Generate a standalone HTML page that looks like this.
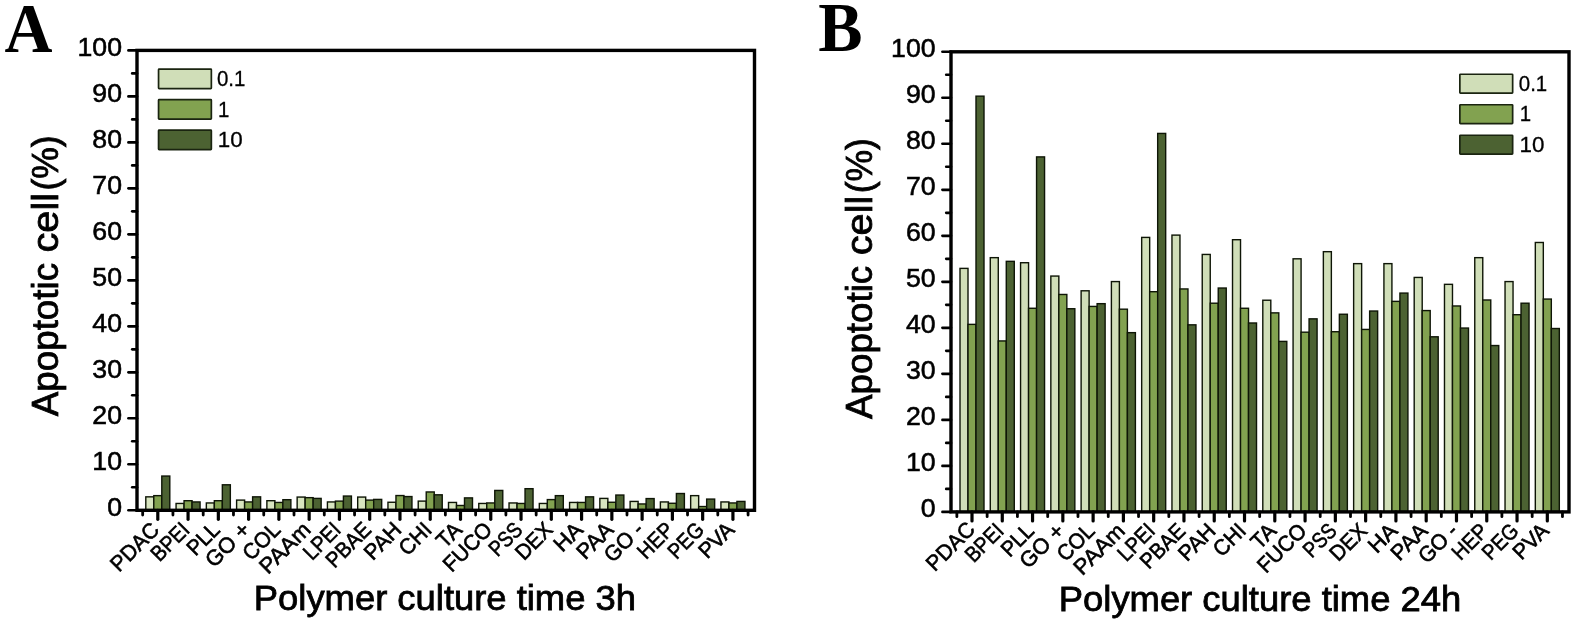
<!DOCTYPE html>
<html><head><meta charset="utf-8"><title>Apoptotic cell charts</title>
<style>
html,body{margin:0;padding:0;background:#fff;}
body{width:1575px;height:626px;overflow:hidden;}
svg{display:block;font-family:"Liberation Sans",sans-serif;fill:#000;filter:blur(0.45px);}
</style></head><body>
<svg width="1575" height="626" viewBox="0 0 1575 626">
<rect width="1575" height="626" fill="#fff"/>
<g id="chartA">
<rect x="145.80" y="496.84" width="8.00" height="13.46" fill="#d8e5c0" stroke="#0e1506" stroke-width="1.4"/>
<rect x="153.80" y="495.64" width="8.00" height="14.66" fill="#82a250" stroke="#0e1506" stroke-width="1.4"/>
<rect x="161.80" y="476.05" width="8.00" height="34.25" fill="#4c6232" stroke="#0e1506" stroke-width="1.4"/>
<rect x="176.07" y="503.46" width="8.00" height="6.84" fill="#d8e5c0" stroke="#0e1506" stroke-width="1.4"/>
<rect x="184.07" y="500.70" width="8.00" height="9.60" fill="#82a250" stroke="#0e1506" stroke-width="1.4"/>
<rect x="192.07" y="501.94" width="8.00" height="8.36" fill="#4c6232" stroke="#0e1506" stroke-width="1.4"/>
<rect x="206.34" y="502.95" width="8.00" height="7.35" fill="#d8e5c0" stroke="#0e1506" stroke-width="1.4"/>
<rect x="214.34" y="500.70" width="8.00" height="9.60" fill="#82a250" stroke="#0e1506" stroke-width="1.4"/>
<rect x="222.34" y="484.79" width="8.00" height="25.51" fill="#4c6232" stroke="#0e1506" stroke-width="1.4"/>
<rect x="236.61" y="500.10" width="8.00" height="10.20" fill="#d8e5c0" stroke="#0e1506" stroke-width="1.4"/>
<rect x="244.61" y="501.94" width="8.00" height="8.36" fill="#82a250" stroke="#0e1506" stroke-width="1.4"/>
<rect x="252.61" y="496.84" width="8.00" height="13.46" fill="#4c6232" stroke="#0e1506" stroke-width="1.4"/>
<rect x="266.88" y="500.70" width="8.00" height="9.60" fill="#d8e5c0" stroke="#0e1506" stroke-width="1.4"/>
<rect x="274.88" y="502.45" width="8.00" height="7.85" fill="#82a250" stroke="#0e1506" stroke-width="1.4"/>
<rect x="282.88" y="499.69" width="8.00" height="10.61" fill="#4c6232" stroke="#0e1506" stroke-width="1.4"/>
<rect x="297.15" y="497.07" width="8.00" height="13.23" fill="#d8e5c0" stroke="#0e1506" stroke-width="1.4"/>
<rect x="305.15" y="497.66" width="8.00" height="12.64" fill="#82a250" stroke="#0e1506" stroke-width="1.4"/>
<rect x="313.15" y="498.40" width="8.00" height="11.90" fill="#4c6232" stroke="#0e1506" stroke-width="1.4"/>
<rect x="327.42" y="501.94" width="8.00" height="8.36" fill="#d8e5c0" stroke="#0e1506" stroke-width="1.4"/>
<rect x="335.42" y="501.11" width="8.00" height="9.19" fill="#82a250" stroke="#0e1506" stroke-width="1.4"/>
<rect x="343.42" y="496.05" width="8.00" height="14.25" fill="#4c6232" stroke="#0e1506" stroke-width="1.4"/>
<rect x="357.69" y="497.07" width="8.00" height="13.23" fill="#d8e5c0" stroke="#0e1506" stroke-width="1.4"/>
<rect x="365.69" y="500.10" width="8.00" height="10.20" fill="#82a250" stroke="#0e1506" stroke-width="1.4"/>
<rect x="373.69" y="499.41" width="8.00" height="10.89" fill="#4c6232" stroke="#0e1506" stroke-width="1.4"/>
<rect x="387.96" y="502.26" width="8.00" height="8.04" fill="#d8e5c0" stroke="#0e1506" stroke-width="1.4"/>
<rect x="395.96" y="495.55" width="8.00" height="14.75" fill="#82a250" stroke="#0e1506" stroke-width="1.4"/>
<rect x="403.96" y="496.56" width="8.00" height="13.74" fill="#4c6232" stroke="#0e1506" stroke-width="1.4"/>
<rect x="418.23" y="501.11" width="8.00" height="9.19" fill="#d8e5c0" stroke="#0e1506" stroke-width="1.4"/>
<rect x="426.23" y="491.96" width="8.00" height="18.34" fill="#82a250" stroke="#0e1506" stroke-width="1.4"/>
<rect x="434.23" y="494.81" width="8.00" height="15.49" fill="#4c6232" stroke="#0e1506" stroke-width="1.4"/>
<rect x="448.50" y="502.45" width="8.00" height="7.85" fill="#d8e5c0" stroke="#0e1506" stroke-width="1.4"/>
<rect x="456.50" y="505.48" width="8.00" height="4.82" fill="#82a250" stroke="#0e1506" stroke-width="1.4"/>
<rect x="464.50" y="497.89" width="8.00" height="12.41" fill="#4c6232" stroke="#0e1506" stroke-width="1.4"/>
<rect x="478.77" y="503.46" width="8.00" height="6.84" fill="#d8e5c0" stroke="#0e1506" stroke-width="1.4"/>
<rect x="486.77" y="502.95" width="8.00" height="7.35" fill="#82a250" stroke="#0e1506" stroke-width="1.4"/>
<rect x="494.77" y="490.44" width="8.00" height="19.86" fill="#4c6232" stroke="#0e1506" stroke-width="1.4"/>
<rect x="509.04" y="502.95" width="8.00" height="7.35" fill="#d8e5c0" stroke="#0e1506" stroke-width="1.4"/>
<rect x="517.04" y="503.46" width="8.00" height="6.84" fill="#82a250" stroke="#0e1506" stroke-width="1.4"/>
<rect x="525.04" y="488.69" width="8.00" height="21.61" fill="#4c6232" stroke="#0e1506" stroke-width="1.4"/>
<rect x="539.31" y="503.46" width="8.00" height="6.84" fill="#d8e5c0" stroke="#0e1506" stroke-width="1.4"/>
<rect x="547.31" y="499.59" width="8.00" height="10.71" fill="#82a250" stroke="#0e1506" stroke-width="1.4"/>
<rect x="555.31" y="495.64" width="8.00" height="14.66" fill="#4c6232" stroke="#0e1506" stroke-width="1.4"/>
<rect x="569.58" y="502.45" width="8.00" height="7.85" fill="#d8e5c0" stroke="#0e1506" stroke-width="1.4"/>
<rect x="577.58" y="502.45" width="8.00" height="7.85" fill="#82a250" stroke="#0e1506" stroke-width="1.4"/>
<rect x="585.58" y="496.84" width="8.00" height="13.46" fill="#4c6232" stroke="#0e1506" stroke-width="1.4"/>
<rect x="599.85" y="498.40" width="8.00" height="11.90" fill="#d8e5c0" stroke="#0e1506" stroke-width="1.4"/>
<rect x="607.85" y="502.26" width="8.00" height="8.04" fill="#82a250" stroke="#0e1506" stroke-width="1.4"/>
<rect x="615.85" y="495.04" width="8.00" height="15.26" fill="#4c6232" stroke="#0e1506" stroke-width="1.4"/>
<rect x="630.12" y="501.43" width="8.00" height="8.87" fill="#d8e5c0" stroke="#0e1506" stroke-width="1.4"/>
<rect x="638.12" y="503.96" width="8.00" height="6.34" fill="#82a250" stroke="#0e1506" stroke-width="1.4"/>
<rect x="646.12" y="498.58" width="8.00" height="11.72" fill="#4c6232" stroke="#0e1506" stroke-width="1.4"/>
<rect x="660.39" y="501.94" width="8.00" height="8.36" fill="#d8e5c0" stroke="#0e1506" stroke-width="1.4"/>
<rect x="668.39" y="503.27" width="8.00" height="7.03" fill="#82a250" stroke="#0e1506" stroke-width="1.4"/>
<rect x="676.39" y="493.52" width="8.00" height="16.78" fill="#4c6232" stroke="#0e1506" stroke-width="1.4"/>
<rect x="690.66" y="495.64" width="8.00" height="14.66" fill="#d8e5c0" stroke="#0e1506" stroke-width="1.4"/>
<rect x="698.66" y="506.54" width="8.00" height="3.76" fill="#82a250" stroke="#0e1506" stroke-width="1.4"/>
<rect x="706.66" y="499.09" width="8.00" height="11.21" fill="#4c6232" stroke="#0e1506" stroke-width="1.4"/>
<rect x="720.93" y="501.94" width="8.00" height="8.36" fill="#d8e5c0" stroke="#0e1506" stroke-width="1.4"/>
<rect x="728.93" y="502.95" width="8.00" height="7.35" fill="#82a250" stroke="#0e1506" stroke-width="1.4"/>
<rect x="736.93" y="501.43" width="8.00" height="8.87" fill="#4c6232" stroke="#0e1506" stroke-width="1.4"/>
<rect x="137" y="50.4" width="617.5" height="459.90000000000003" fill="none" stroke="#000" stroke-width="3.4"/>
<line x1="128.40" y1="510.30" x2="137" y2="510.30" stroke="#000" stroke-width="2.6" stroke-linecap="round"/>
<text transform="translate(122.0,515.70) scale(1.05,1)" text-anchor="end" font-size="25.4" stroke="#000" stroke-width="0.55">0</text>
<line x1="132.20" y1="487.31" x2="137" y2="487.31" stroke="#000" stroke-width="2.6" stroke-linecap="round"/>
<line x1="128.40" y1="464.31" x2="137" y2="464.31" stroke="#000" stroke-width="2.6" stroke-linecap="round"/>
<text transform="translate(122.0,469.71) scale(1.05,1)" text-anchor="end" font-size="25.4" stroke="#000" stroke-width="0.55">10</text>
<line x1="132.20" y1="441.31" x2="137" y2="441.31" stroke="#000" stroke-width="2.6" stroke-linecap="round"/>
<line x1="128.40" y1="418.32" x2="137" y2="418.32" stroke="#000" stroke-width="2.6" stroke-linecap="round"/>
<text transform="translate(122.0,423.72) scale(1.05,1)" text-anchor="end" font-size="25.4" stroke="#000" stroke-width="0.55">20</text>
<line x1="132.20" y1="395.32" x2="137" y2="395.32" stroke="#000" stroke-width="2.6" stroke-linecap="round"/>
<line x1="128.40" y1="372.33" x2="137" y2="372.33" stroke="#000" stroke-width="2.6" stroke-linecap="round"/>
<text transform="translate(122.0,377.73) scale(1.05,1)" text-anchor="end" font-size="25.4" stroke="#000" stroke-width="0.55">30</text>
<line x1="132.20" y1="349.34" x2="137" y2="349.34" stroke="#000" stroke-width="2.6" stroke-linecap="round"/>
<line x1="128.40" y1="326.34" x2="137" y2="326.34" stroke="#000" stroke-width="2.6" stroke-linecap="round"/>
<text transform="translate(122.0,331.74) scale(1.05,1)" text-anchor="end" font-size="25.4" stroke="#000" stroke-width="0.55">40</text>
<line x1="132.20" y1="303.35" x2="137" y2="303.35" stroke="#000" stroke-width="2.6" stroke-linecap="round"/>
<line x1="128.40" y1="280.35" x2="137" y2="280.35" stroke="#000" stroke-width="2.6" stroke-linecap="round"/>
<text transform="translate(122.0,285.75) scale(1.05,1)" text-anchor="end" font-size="25.4" stroke="#000" stroke-width="0.55">50</text>
<line x1="132.20" y1="257.36" x2="137" y2="257.36" stroke="#000" stroke-width="2.6" stroke-linecap="round"/>
<line x1="128.40" y1="234.36" x2="137" y2="234.36" stroke="#000" stroke-width="2.6" stroke-linecap="round"/>
<text transform="translate(122.0,239.76) scale(1.05,1)" text-anchor="end" font-size="25.4" stroke="#000" stroke-width="0.55">60</text>
<line x1="132.20" y1="211.37" x2="137" y2="211.37" stroke="#000" stroke-width="2.6" stroke-linecap="round"/>
<line x1="128.40" y1="188.37" x2="137" y2="188.37" stroke="#000" stroke-width="2.6" stroke-linecap="round"/>
<text transform="translate(122.0,193.77) scale(1.05,1)" text-anchor="end" font-size="25.4" stroke="#000" stroke-width="0.55">70</text>
<line x1="132.20" y1="165.38" x2="137" y2="165.38" stroke="#000" stroke-width="2.6" stroke-linecap="round"/>
<line x1="128.40" y1="142.38" x2="137" y2="142.38" stroke="#000" stroke-width="2.6" stroke-linecap="round"/>
<text transform="translate(122.0,147.78) scale(1.05,1)" text-anchor="end" font-size="25.4" stroke="#000" stroke-width="0.55">80</text>
<line x1="132.20" y1="119.38" x2="137" y2="119.38" stroke="#000" stroke-width="2.6" stroke-linecap="round"/>
<line x1="128.40" y1="96.39" x2="137" y2="96.39" stroke="#000" stroke-width="2.6" stroke-linecap="round"/>
<text transform="translate(122.0,101.79) scale(1.05,1)" text-anchor="end" font-size="25.4" stroke="#000" stroke-width="0.55">90</text>
<line x1="132.20" y1="73.39" x2="137" y2="73.39" stroke="#000" stroke-width="2.6" stroke-linecap="round"/>
<line x1="128.40" y1="50.40" x2="137" y2="50.40" stroke="#000" stroke-width="2.6" stroke-linecap="round"/>
<text transform="translate(122.0,55.80) scale(1.05,1)" text-anchor="end" font-size="25.4" stroke="#000" stroke-width="0.55">100</text>
<line x1="157.80" y1="510.3" x2="157.80" y2="519.30" stroke="#000" stroke-width="3.2" stroke-linecap="round"/>
<line x1="142.67" y1="510.3" x2="142.67" y2="515.10" stroke="#000" stroke-width="2.8" stroke-linecap="round"/>
<line x1="172.94" y1="510.3" x2="172.94" y2="515.10" stroke="#000" stroke-width="2.8" stroke-linecap="round"/>
<text transform="translate(160.60,531.10) rotate(-45) scale(0.972,1)" text-anchor="end" font-size="21.8" stroke="#000" stroke-width="0.6">PDAC</text>
<line x1="188.07" y1="510.3" x2="188.07" y2="519.30" stroke="#000" stroke-width="3.2" stroke-linecap="round"/>
<line x1="203.21" y1="510.3" x2="203.21" y2="515.10" stroke="#000" stroke-width="2.8" stroke-linecap="round"/>
<text transform="translate(190.87,531.10) rotate(-45) scale(0.895,1)" text-anchor="end" font-size="21.8" stroke="#000" stroke-width="0.6">BPEI</text>
<line x1="218.34" y1="510.3" x2="218.34" y2="519.30" stroke="#000" stroke-width="3.2" stroke-linecap="round"/>
<line x1="233.47" y1="510.3" x2="233.47" y2="515.10" stroke="#000" stroke-width="2.8" stroke-linecap="round"/>
<text transform="translate(221.14,531.10) rotate(-45) scale(0.938,1)" text-anchor="end" font-size="21.8" stroke="#000" stroke-width="0.6">PLL</text>
<line x1="248.61" y1="510.3" x2="248.61" y2="519.30" stroke="#000" stroke-width="3.2" stroke-linecap="round"/>
<line x1="263.75" y1="510.3" x2="263.75" y2="515.10" stroke="#000" stroke-width="2.8" stroke-linecap="round"/>
<text transform="translate(251.41,531.10) rotate(-45) scale(1.001,1)" text-anchor="end" font-size="21.8" stroke="#000" stroke-width="0.6">GO +</text>
<line x1="278.88" y1="510.3" x2="278.88" y2="519.30" stroke="#000" stroke-width="3.2" stroke-linecap="round"/>
<line x1="294.01" y1="510.3" x2="294.01" y2="515.10" stroke="#000" stroke-width="2.8" stroke-linecap="round"/>
<text transform="translate(281.68,531.10) rotate(-45) scale(0.957,1)" text-anchor="end" font-size="21.8" stroke="#000" stroke-width="0.6">COL</text>
<line x1="309.15" y1="510.3" x2="309.15" y2="519.30" stroke="#000" stroke-width="3.2" stroke-linecap="round"/>
<line x1="324.28" y1="510.3" x2="324.28" y2="515.10" stroke="#000" stroke-width="2.8" stroke-linecap="round"/>
<text transform="translate(311.95,531.10) rotate(-45) scale(1.033,1)" text-anchor="end" font-size="21.8" stroke="#000" stroke-width="0.6">PAAm</text>
<line x1="339.42" y1="510.3" x2="339.42" y2="519.30" stroke="#000" stroke-width="3.2" stroke-linecap="round"/>
<line x1="354.56" y1="510.3" x2="354.56" y2="515.10" stroke="#000" stroke-width="2.8" stroke-linecap="round"/>
<text transform="translate(342.22,531.10) rotate(-45) scale(0.904,1)" text-anchor="end" font-size="21.8" stroke="#000" stroke-width="0.6">LPEI</text>
<line x1="369.69" y1="510.3" x2="369.69" y2="519.30" stroke="#000" stroke-width="3.2" stroke-linecap="round"/>
<line x1="384.82" y1="510.3" x2="384.82" y2="515.10" stroke="#000" stroke-width="2.8" stroke-linecap="round"/>
<text transform="translate(372.49,531.10) rotate(-45) scale(0.922,1)" text-anchor="end" font-size="21.8" stroke="#000" stroke-width="0.6">PBAE</text>
<line x1="399.96" y1="510.3" x2="399.96" y2="519.30" stroke="#000" stroke-width="3.2" stroke-linecap="round"/>
<line x1="415.10" y1="510.3" x2="415.10" y2="515.10" stroke="#000" stroke-width="2.8" stroke-linecap="round"/>
<text transform="translate(402.76,531.10) rotate(-45) scale(0.987,1)" text-anchor="end" font-size="21.8" stroke="#000" stroke-width="0.6">PAH</text>
<line x1="430.23" y1="510.3" x2="430.23" y2="519.30" stroke="#000" stroke-width="3.2" stroke-linecap="round"/>
<line x1="445.37" y1="510.3" x2="445.37" y2="515.10" stroke="#000" stroke-width="2.8" stroke-linecap="round"/>
<text transform="translate(433.03,531.10) rotate(-45) scale(0.965,1)" text-anchor="end" font-size="21.8" stroke="#000" stroke-width="0.6">CHI</text>
<line x1="460.50" y1="510.3" x2="460.50" y2="519.30" stroke="#000" stroke-width="3.2" stroke-linecap="round"/>
<line x1="475.63" y1="510.3" x2="475.63" y2="515.10" stroke="#000" stroke-width="2.8" stroke-linecap="round"/>
<text transform="translate(463.30,531.10) rotate(-45) scale(0.981,1)" text-anchor="end" font-size="21.8" stroke="#000" stroke-width="0.6">TA</text>
<line x1="490.77" y1="510.3" x2="490.77" y2="519.30" stroke="#000" stroke-width="3.2" stroke-linecap="round"/>
<line x1="505.90" y1="510.3" x2="505.90" y2="515.10" stroke="#000" stroke-width="2.8" stroke-linecap="round"/>
<text transform="translate(493.57,531.10) rotate(-45) scale(0.958,1)" text-anchor="end" font-size="21.8" stroke="#000" stroke-width="0.6">FUCO</text>
<line x1="521.04" y1="510.3" x2="521.04" y2="519.30" stroke="#000" stroke-width="3.2" stroke-linecap="round"/>
<line x1="536.17" y1="510.3" x2="536.17" y2="515.10" stroke="#000" stroke-width="2.8" stroke-linecap="round"/>
<text transform="translate(523.84,531.10) rotate(-45) scale(0.857,1)" text-anchor="end" font-size="21.8" stroke="#000" stroke-width="0.6">PSS</text>
<line x1="551.31" y1="510.3" x2="551.31" y2="519.30" stroke="#000" stroke-width="3.2" stroke-linecap="round"/>
<line x1="566.44" y1="510.3" x2="566.44" y2="515.10" stroke="#000" stroke-width="2.8" stroke-linecap="round"/>
<text transform="translate(554.11,531.10) rotate(-45) scale(0.95,1)" text-anchor="end" font-size="21.8" stroke="#000" stroke-width="0.6">DEX</text>
<line x1="581.58" y1="510.3" x2="581.58" y2="519.30" stroke="#000" stroke-width="3.2" stroke-linecap="round"/>
<line x1="596.71" y1="510.3" x2="596.71" y2="515.10" stroke="#000" stroke-width="2.8" stroke-linecap="round"/>
<text transform="translate(584.38,531.10) rotate(-45) scale(1.028,1)" text-anchor="end" font-size="21.8" stroke="#000" stroke-width="0.6">HA</text>
<line x1="611.85" y1="510.3" x2="611.85" y2="519.30" stroke="#000" stroke-width="3.2" stroke-linecap="round"/>
<line x1="626.99" y1="510.3" x2="626.99" y2="515.10" stroke="#000" stroke-width="2.8" stroke-linecap="round"/>
<text transform="translate(614.65,531.10) rotate(-45) scale(0.992,1)" text-anchor="end" font-size="21.8" stroke="#000" stroke-width="0.6">PAA</text>
<line x1="642.12" y1="510.3" x2="642.12" y2="519.30" stroke="#000" stroke-width="3.2" stroke-linecap="round"/>
<line x1="657.25" y1="510.3" x2="657.25" y2="515.10" stroke="#000" stroke-width="2.8" stroke-linecap="round"/>
<text transform="translate(644.92,531.10) rotate(-45) scale(0.967,1)" text-anchor="end" font-size="21.8" stroke="#000" stroke-width="0.6">GO -</text>
<line x1="672.39" y1="510.3" x2="672.39" y2="519.30" stroke="#000" stroke-width="3.2" stroke-linecap="round"/>
<line x1="687.53" y1="510.3" x2="687.53" y2="515.10" stroke="#000" stroke-width="2.8" stroke-linecap="round"/>
<text transform="translate(675.19,531.10) rotate(-45) scale(0.921,1)" text-anchor="end" font-size="21.8" stroke="#000" stroke-width="0.6">HEP</text>
<line x1="702.66" y1="510.3" x2="702.66" y2="519.30" stroke="#000" stroke-width="3.2" stroke-linecap="round"/>
<line x1="717.80" y1="510.3" x2="717.80" y2="515.10" stroke="#000" stroke-width="2.8" stroke-linecap="round"/>
<text transform="translate(705.46,531.10) rotate(-45) scale(0.894,1)" text-anchor="end" font-size="21.8" stroke="#000" stroke-width="0.6">PEG</text>
<line x1="732.93" y1="510.3" x2="732.93" y2="519.30" stroke="#000" stroke-width="3.2" stroke-linecap="round"/>
<line x1="748.07" y1="510.3" x2="748.07" y2="515.10" stroke="#000" stroke-width="2.8" stroke-linecap="round"/>
<text transform="translate(735.73,531.10) rotate(-45) scale(0.961,1)" text-anchor="end" font-size="21.8" stroke="#000" stroke-width="0.6">PVA</text>
<rect x="158.54999999999998" y="69.05" width="52.8" height="19.6" rx="0.6" fill="#d0deb8" stroke="#1a2410" stroke-width="1.7"/>
<text transform="translate(216.90,86.40) scale(0.96,1)" font-size="21.3" stroke="#000" stroke-width="0.3">0.1</text>
<rect x="158.54999999999998" y="99.55" width="52.8" height="19.6" rx="0.6" fill="#82a250" stroke="#1a2410" stroke-width="1.7"/>
<text transform="translate(217.90,116.90) scale(0.96,1)" font-size="21.3" stroke="#000" stroke-width="0.3">1</text>
<rect x="158.54999999999998" y="130.04999999999998" width="52.8" height="19.6" rx="0.6" fill="#4c6232" stroke="#1a2410" stroke-width="1.7"/>
<text transform="translate(217.70,147.40) scale(1.05,1)" font-size="21.3" stroke="#000" stroke-width="0.3">10</text>
<text transform="translate(58.3,416.2) rotate(-90) scale(1.002,1)" font-size="36.7" stroke="#000" stroke-width="0.8">Apoptotic</text>
<text transform="translate(58.3,252.5) rotate(-90) scale(1.083,1)" font-size="36.7" stroke="#000" stroke-width="0.8">cell</text>
<text transform="translate(58.3,190.5) rotate(-90) scale(0.966,1)" font-size="36.7" stroke="#000" stroke-width="0.8">(%)</text>
<text transform="translate(444.9,609.6) scale(1.04,1)" text-anchor="middle" font-size="35" stroke="#000" stroke-width="0.8">Polymer culture time 3h</text>
<text transform="translate(4.5,51.6) scale(0.965,1)" font-family="'Liberation Serif',serif" font-weight="bold" font-size="68.8">A</text>
</g>
<g id="chartB">
<rect x="960.00" y="268.38" width="8.00" height="243.52" fill="#d0deb8" stroke="#0e1506" stroke-width="1.4"/>
<rect x="968.00" y="324.37" width="8.00" height="187.53" fill="#82a250" stroke="#0e1506" stroke-width="1.4"/>
<rect x="976.00" y="96.16" width="8.00" height="415.74" fill="#4c6232" stroke="#0e1506" stroke-width="1.4"/>
<rect x="990.28" y="257.66" width="8.00" height="254.24" fill="#d0deb8" stroke="#0e1506" stroke-width="1.4"/>
<rect x="998.28" y="340.94" width="8.00" height="170.96" fill="#82a250" stroke="#0e1506" stroke-width="1.4"/>
<rect x="1006.28" y="261.34" width="8.00" height="250.56" fill="#4c6232" stroke="#0e1506" stroke-width="1.4"/>
<rect x="1020.56" y="262.72" width="8.00" height="249.18" fill="#d0deb8" stroke="#0e1506" stroke-width="1.4"/>
<rect x="1028.56" y="308.27" width="8.00" height="203.63" fill="#82a250" stroke="#0e1506" stroke-width="1.4"/>
<rect x="1036.56" y="156.90" width="8.00" height="355.00" fill="#4c6232" stroke="#0e1506" stroke-width="1.4"/>
<rect x="1050.84" y="276.06" width="8.00" height="235.84" fill="#d0deb8" stroke="#0e1506" stroke-width="1.4"/>
<rect x="1058.84" y="294.47" width="8.00" height="217.43" fill="#82a250" stroke="#0e1506" stroke-width="1.4"/>
<rect x="1066.84" y="308.73" width="8.00" height="203.17" fill="#4c6232" stroke="#0e1506" stroke-width="1.4"/>
<rect x="1081.12" y="290.79" width="8.00" height="221.11" fill="#d0deb8" stroke="#0e1506" stroke-width="1.4"/>
<rect x="1089.12" y="306.43" width="8.00" height="205.47" fill="#82a250" stroke="#0e1506" stroke-width="1.4"/>
<rect x="1097.12" y="303.67" width="8.00" height="208.23" fill="#4c6232" stroke="#0e1506" stroke-width="1.4"/>
<rect x="1111.40" y="281.58" width="8.00" height="230.32" fill="#d0deb8" stroke="#0e1506" stroke-width="1.4"/>
<rect x="1119.40" y="309.19" width="8.00" height="202.71" fill="#82a250" stroke="#0e1506" stroke-width="1.4"/>
<rect x="1127.40" y="332.65" width="8.00" height="179.25" fill="#4c6232" stroke="#0e1506" stroke-width="1.4"/>
<rect x="1141.68" y="237.41" width="8.00" height="274.49" fill="#d0deb8" stroke="#0e1506" stroke-width="1.4"/>
<rect x="1149.68" y="291.71" width="8.00" height="220.19" fill="#82a250" stroke="#0e1506" stroke-width="1.4"/>
<rect x="1157.68" y="133.43" width="8.00" height="378.47" fill="#4c6232" stroke="#0e1506" stroke-width="1.4"/>
<rect x="1171.96" y="235.11" width="8.00" height="276.79" fill="#d0deb8" stroke="#0e1506" stroke-width="1.4"/>
<rect x="1179.96" y="288.95" width="8.00" height="222.95" fill="#82a250" stroke="#0e1506" stroke-width="1.4"/>
<rect x="1187.96" y="324.83" width="8.00" height="187.07" fill="#4c6232" stroke="#0e1506" stroke-width="1.4"/>
<rect x="1202.24" y="254.44" width="8.00" height="257.46" fill="#d0deb8" stroke="#0e1506" stroke-width="1.4"/>
<rect x="1210.24" y="303.21" width="8.00" height="208.69" fill="#82a250" stroke="#0e1506" stroke-width="1.4"/>
<rect x="1218.24" y="288.03" width="8.00" height="223.87" fill="#4c6232" stroke="#0e1506" stroke-width="1.4"/>
<rect x="1232.52" y="239.71" width="8.00" height="272.19" fill="#d0deb8" stroke="#0e1506" stroke-width="1.4"/>
<rect x="1240.52" y="308.27" width="8.00" height="203.63" fill="#82a250" stroke="#0e1506" stroke-width="1.4"/>
<rect x="1248.52" y="322.99" width="8.00" height="188.91" fill="#4c6232" stroke="#0e1506" stroke-width="1.4"/>
<rect x="1262.80" y="300.22" width="8.00" height="211.68" fill="#d0deb8" stroke="#0e1506" stroke-width="1.4"/>
<rect x="1270.80" y="312.87" width="8.00" height="199.03" fill="#82a250" stroke="#0e1506" stroke-width="1.4"/>
<rect x="1278.80" y="341.40" width="8.00" height="170.50" fill="#4c6232" stroke="#0e1506" stroke-width="1.4"/>
<rect x="1293.08" y="258.81" width="8.00" height="253.09" fill="#d0deb8" stroke="#0e1506" stroke-width="1.4"/>
<rect x="1301.08" y="332.19" width="8.00" height="179.71" fill="#82a250" stroke="#0e1506" stroke-width="1.4"/>
<rect x="1309.08" y="318.85" width="8.00" height="193.05" fill="#4c6232" stroke="#0e1506" stroke-width="1.4"/>
<rect x="1323.36" y="251.68" width="8.00" height="260.22" fill="#d0deb8" stroke="#0e1506" stroke-width="1.4"/>
<rect x="1331.36" y="331.73" width="8.00" height="180.17" fill="#82a250" stroke="#0e1506" stroke-width="1.4"/>
<rect x="1339.36" y="314.25" width="8.00" height="197.65" fill="#4c6232" stroke="#0e1506" stroke-width="1.4"/>
<rect x="1353.64" y="263.64" width="8.00" height="248.26" fill="#d0deb8" stroke="#0e1506" stroke-width="1.4"/>
<rect x="1361.64" y="329.43" width="8.00" height="182.47" fill="#82a250" stroke="#0e1506" stroke-width="1.4"/>
<rect x="1369.64" y="311.03" width="8.00" height="200.87" fill="#4c6232" stroke="#0e1506" stroke-width="1.4"/>
<rect x="1383.92" y="263.64" width="8.00" height="248.26" fill="#d0deb8" stroke="#0e1506" stroke-width="1.4"/>
<rect x="1391.92" y="301.37" width="8.00" height="210.53" fill="#82a250" stroke="#0e1506" stroke-width="1.4"/>
<rect x="1399.92" y="293.09" width="8.00" height="218.81" fill="#4c6232" stroke="#0e1506" stroke-width="1.4"/>
<rect x="1414.20" y="277.44" width="8.00" height="234.46" fill="#d0deb8" stroke="#0e1506" stroke-width="1.4"/>
<rect x="1422.20" y="310.57" width="8.00" height="201.33" fill="#82a250" stroke="#0e1506" stroke-width="1.4"/>
<rect x="1430.20" y="336.80" width="8.00" height="175.10" fill="#4c6232" stroke="#0e1506" stroke-width="1.4"/>
<rect x="1444.48" y="284.34" width="8.00" height="227.56" fill="#d0deb8" stroke="#0e1506" stroke-width="1.4"/>
<rect x="1452.48" y="305.97" width="8.00" height="205.93" fill="#82a250" stroke="#0e1506" stroke-width="1.4"/>
<rect x="1460.48" y="328.05" width="8.00" height="183.85" fill="#4c6232" stroke="#0e1506" stroke-width="1.4"/>
<rect x="1474.76" y="257.66" width="8.00" height="254.24" fill="#d0deb8" stroke="#0e1506" stroke-width="1.4"/>
<rect x="1482.76" y="299.99" width="8.00" height="211.91" fill="#82a250" stroke="#0e1506" stroke-width="1.4"/>
<rect x="1490.76" y="345.54" width="8.00" height="166.36" fill="#4c6232" stroke="#0e1506" stroke-width="1.4"/>
<rect x="1505.04" y="281.58" width="8.00" height="230.32" fill="#d0deb8" stroke="#0e1506" stroke-width="1.4"/>
<rect x="1513.04" y="314.71" width="8.00" height="197.19" fill="#82a250" stroke="#0e1506" stroke-width="1.4"/>
<rect x="1521.04" y="303.21" width="8.00" height="208.69" fill="#4c6232" stroke="#0e1506" stroke-width="1.4"/>
<rect x="1535.32" y="242.48" width="8.00" height="269.42" fill="#d0deb8" stroke="#0e1506" stroke-width="1.4"/>
<rect x="1543.32" y="299.07" width="8.00" height="212.83" fill="#82a250" stroke="#0e1506" stroke-width="1.4"/>
<rect x="1551.32" y="328.51" width="8.00" height="183.39" fill="#4c6232" stroke="#0e1506" stroke-width="1.4"/>
<rect x="951" y="51.8" width="618" height="460.09999999999997" fill="none" stroke="#000" stroke-width="3.4"/>
<line x1="942.40" y1="511.90" x2="951" y2="511.90" stroke="#000" stroke-width="2.6" stroke-linecap="round"/>
<text transform="translate(935.6,517.30) scale(1.05,1)" text-anchor="end" font-size="25.4" stroke="#000" stroke-width="0.55">0</text>
<line x1="946.20" y1="488.89" x2="951" y2="488.89" stroke="#000" stroke-width="2.6" stroke-linecap="round"/>
<line x1="942.40" y1="465.89" x2="951" y2="465.89" stroke="#000" stroke-width="2.6" stroke-linecap="round"/>
<text transform="translate(935.6,471.29) scale(1.05,1)" text-anchor="end" font-size="25.4" stroke="#000" stroke-width="0.55">10</text>
<line x1="946.20" y1="442.88" x2="951" y2="442.88" stroke="#000" stroke-width="2.6" stroke-linecap="round"/>
<line x1="942.40" y1="419.88" x2="951" y2="419.88" stroke="#000" stroke-width="2.6" stroke-linecap="round"/>
<text transform="translate(935.6,425.28) scale(1.05,1)" text-anchor="end" font-size="25.4" stroke="#000" stroke-width="0.55">20</text>
<line x1="946.20" y1="396.88" x2="951" y2="396.88" stroke="#000" stroke-width="2.6" stroke-linecap="round"/>
<line x1="942.40" y1="373.87" x2="951" y2="373.87" stroke="#000" stroke-width="2.6" stroke-linecap="round"/>
<text transform="translate(935.6,379.27) scale(1.05,1)" text-anchor="end" font-size="25.4" stroke="#000" stroke-width="0.55">30</text>
<line x1="946.20" y1="350.87" x2="951" y2="350.87" stroke="#000" stroke-width="2.6" stroke-linecap="round"/>
<line x1="942.40" y1="327.86" x2="951" y2="327.86" stroke="#000" stroke-width="2.6" stroke-linecap="round"/>
<text transform="translate(935.6,333.26) scale(1.05,1)" text-anchor="end" font-size="25.4" stroke="#000" stroke-width="0.55">40</text>
<line x1="946.20" y1="304.86" x2="951" y2="304.86" stroke="#000" stroke-width="2.6" stroke-linecap="round"/>
<line x1="942.40" y1="281.85" x2="951" y2="281.85" stroke="#000" stroke-width="2.6" stroke-linecap="round"/>
<text transform="translate(935.6,287.25) scale(1.05,1)" text-anchor="end" font-size="25.4" stroke="#000" stroke-width="0.55">50</text>
<line x1="946.20" y1="258.84" x2="951" y2="258.84" stroke="#000" stroke-width="2.6" stroke-linecap="round"/>
<line x1="942.40" y1="235.84" x2="951" y2="235.84" stroke="#000" stroke-width="2.6" stroke-linecap="round"/>
<text transform="translate(935.6,241.24) scale(1.05,1)" text-anchor="end" font-size="25.4" stroke="#000" stroke-width="0.55">60</text>
<line x1="946.20" y1="212.83" x2="951" y2="212.83" stroke="#000" stroke-width="2.6" stroke-linecap="round"/>
<line x1="942.40" y1="189.83" x2="951" y2="189.83" stroke="#000" stroke-width="2.6" stroke-linecap="round"/>
<text transform="translate(935.6,195.23) scale(1.05,1)" text-anchor="end" font-size="25.4" stroke="#000" stroke-width="0.55">70</text>
<line x1="946.20" y1="166.82" x2="951" y2="166.82" stroke="#000" stroke-width="2.6" stroke-linecap="round"/>
<line x1="942.40" y1="143.82" x2="951" y2="143.82" stroke="#000" stroke-width="2.6" stroke-linecap="round"/>
<text transform="translate(935.6,149.22) scale(1.05,1)" text-anchor="end" font-size="25.4" stroke="#000" stroke-width="0.55">80</text>
<line x1="946.20" y1="120.81" x2="951" y2="120.81" stroke="#000" stroke-width="2.6" stroke-linecap="round"/>
<line x1="942.40" y1="97.81" x2="951" y2="97.81" stroke="#000" stroke-width="2.6" stroke-linecap="round"/>
<text transform="translate(935.6,103.21) scale(1.05,1)" text-anchor="end" font-size="25.4" stroke="#000" stroke-width="0.55">90</text>
<line x1="946.20" y1="74.81" x2="951" y2="74.81" stroke="#000" stroke-width="2.6" stroke-linecap="round"/>
<line x1="942.40" y1="51.80" x2="951" y2="51.80" stroke="#000" stroke-width="2.6" stroke-linecap="round"/>
<text transform="translate(935.6,57.20) scale(1.05,1)" text-anchor="end" font-size="25.4" stroke="#000" stroke-width="0.55">100</text>
<line x1="972.00" y1="511.9" x2="972.00" y2="520.90" stroke="#000" stroke-width="3.2" stroke-linecap="round"/>
<line x1="956.86" y1="511.9" x2="956.86" y2="516.70" stroke="#000" stroke-width="2.8" stroke-linecap="round"/>
<line x1="987.14" y1="511.9" x2="987.14" y2="516.70" stroke="#000" stroke-width="2.8" stroke-linecap="round"/>
<text transform="translate(976.40,530.70) rotate(-45) scale(0.972,1)" text-anchor="end" font-size="21.8" stroke="#000" stroke-width="0.6">PDAC</text>
<line x1="1002.28" y1="511.9" x2="1002.28" y2="520.90" stroke="#000" stroke-width="3.2" stroke-linecap="round"/>
<line x1="1017.42" y1="511.9" x2="1017.42" y2="516.70" stroke="#000" stroke-width="2.8" stroke-linecap="round"/>
<text transform="translate(1005.08,532.20) rotate(-45) scale(0.895,1)" text-anchor="end" font-size="21.8" stroke="#000" stroke-width="0.6">BPEI</text>
<line x1="1032.56" y1="511.9" x2="1032.56" y2="520.90" stroke="#000" stroke-width="3.2" stroke-linecap="round"/>
<line x1="1047.70" y1="511.9" x2="1047.70" y2="516.70" stroke="#000" stroke-width="2.8" stroke-linecap="round"/>
<text transform="translate(1035.36,532.20) rotate(-45) scale(0.938,1)" text-anchor="end" font-size="21.8" stroke="#000" stroke-width="0.6">PLL</text>
<line x1="1062.84" y1="511.9" x2="1062.84" y2="520.90" stroke="#000" stroke-width="3.2" stroke-linecap="round"/>
<line x1="1077.98" y1="511.9" x2="1077.98" y2="516.70" stroke="#000" stroke-width="2.8" stroke-linecap="round"/>
<text transform="translate(1065.64,532.20) rotate(-45) scale(1.001,1)" text-anchor="end" font-size="21.8" stroke="#000" stroke-width="0.6">GO +</text>
<line x1="1093.12" y1="511.9" x2="1093.12" y2="520.90" stroke="#000" stroke-width="3.2" stroke-linecap="round"/>
<line x1="1108.26" y1="511.9" x2="1108.26" y2="516.70" stroke="#000" stroke-width="2.8" stroke-linecap="round"/>
<text transform="translate(1095.92,532.20) rotate(-45) scale(0.957,1)" text-anchor="end" font-size="21.8" stroke="#000" stroke-width="0.6">COL</text>
<line x1="1123.40" y1="511.9" x2="1123.40" y2="520.90" stroke="#000" stroke-width="3.2" stroke-linecap="round"/>
<line x1="1138.54" y1="511.9" x2="1138.54" y2="516.70" stroke="#000" stroke-width="2.8" stroke-linecap="round"/>
<text transform="translate(1126.20,532.20) rotate(-45) scale(1.033,1)" text-anchor="end" font-size="21.8" stroke="#000" stroke-width="0.6">PAAm</text>
<line x1="1153.68" y1="511.9" x2="1153.68" y2="520.90" stroke="#000" stroke-width="3.2" stroke-linecap="round"/>
<line x1="1168.82" y1="511.9" x2="1168.82" y2="516.70" stroke="#000" stroke-width="2.8" stroke-linecap="round"/>
<text transform="translate(1156.48,532.20) rotate(-45) scale(0.904,1)" text-anchor="end" font-size="21.8" stroke="#000" stroke-width="0.6">LPEI</text>
<line x1="1183.96" y1="511.9" x2="1183.96" y2="520.90" stroke="#000" stroke-width="3.2" stroke-linecap="round"/>
<line x1="1199.10" y1="511.9" x2="1199.10" y2="516.70" stroke="#000" stroke-width="2.8" stroke-linecap="round"/>
<text transform="translate(1186.76,532.20) rotate(-45) scale(0.922,1)" text-anchor="end" font-size="21.8" stroke="#000" stroke-width="0.6">PBAE</text>
<line x1="1214.24" y1="511.9" x2="1214.24" y2="520.90" stroke="#000" stroke-width="3.2" stroke-linecap="round"/>
<line x1="1229.38" y1="511.9" x2="1229.38" y2="516.70" stroke="#000" stroke-width="2.8" stroke-linecap="round"/>
<text transform="translate(1217.04,532.20) rotate(-45) scale(0.987,1)" text-anchor="end" font-size="21.8" stroke="#000" stroke-width="0.6">PAH</text>
<line x1="1244.52" y1="511.9" x2="1244.52" y2="520.90" stroke="#000" stroke-width="3.2" stroke-linecap="round"/>
<line x1="1259.66" y1="511.9" x2="1259.66" y2="516.70" stroke="#000" stroke-width="2.8" stroke-linecap="round"/>
<text transform="translate(1247.32,532.20) rotate(-45) scale(0.965,1)" text-anchor="end" font-size="21.8" stroke="#000" stroke-width="0.6">CHI</text>
<line x1="1274.80" y1="511.9" x2="1274.80" y2="520.90" stroke="#000" stroke-width="3.2" stroke-linecap="round"/>
<line x1="1289.94" y1="511.9" x2="1289.94" y2="516.70" stroke="#000" stroke-width="2.8" stroke-linecap="round"/>
<text transform="translate(1277.60,532.20) rotate(-45) scale(0.981,1)" text-anchor="end" font-size="21.8" stroke="#000" stroke-width="0.6">TA</text>
<line x1="1305.08" y1="511.9" x2="1305.08" y2="520.90" stroke="#000" stroke-width="3.2" stroke-linecap="round"/>
<line x1="1320.22" y1="511.9" x2="1320.22" y2="516.70" stroke="#000" stroke-width="2.8" stroke-linecap="round"/>
<text transform="translate(1307.88,532.20) rotate(-45) scale(0.958,1)" text-anchor="end" font-size="21.8" stroke="#000" stroke-width="0.6">FUCO</text>
<line x1="1335.36" y1="511.9" x2="1335.36" y2="520.90" stroke="#000" stroke-width="3.2" stroke-linecap="round"/>
<line x1="1350.50" y1="511.9" x2="1350.50" y2="516.70" stroke="#000" stroke-width="2.8" stroke-linecap="round"/>
<text transform="translate(1338.16,532.20) rotate(-45) scale(0.857,1)" text-anchor="end" font-size="21.8" stroke="#000" stroke-width="0.6">PSS</text>
<line x1="1365.64" y1="511.9" x2="1365.64" y2="520.90" stroke="#000" stroke-width="3.2" stroke-linecap="round"/>
<line x1="1380.78" y1="511.9" x2="1380.78" y2="516.70" stroke="#000" stroke-width="2.8" stroke-linecap="round"/>
<text transform="translate(1368.44,532.20) rotate(-45) scale(0.95,1)" text-anchor="end" font-size="21.8" stroke="#000" stroke-width="0.6">DEX</text>
<line x1="1395.92" y1="511.9" x2="1395.92" y2="520.90" stroke="#000" stroke-width="3.2" stroke-linecap="round"/>
<line x1="1411.06" y1="511.9" x2="1411.06" y2="516.70" stroke="#000" stroke-width="2.8" stroke-linecap="round"/>
<text transform="translate(1398.72,532.20) rotate(-45) scale(1.028,1)" text-anchor="end" font-size="21.8" stroke="#000" stroke-width="0.6">HA</text>
<line x1="1426.20" y1="511.9" x2="1426.20" y2="520.90" stroke="#000" stroke-width="3.2" stroke-linecap="round"/>
<line x1="1441.34" y1="511.9" x2="1441.34" y2="516.70" stroke="#000" stroke-width="2.8" stroke-linecap="round"/>
<text transform="translate(1429.00,532.20) rotate(-45) scale(0.992,1)" text-anchor="end" font-size="21.8" stroke="#000" stroke-width="0.6">PAA</text>
<line x1="1456.48" y1="511.9" x2="1456.48" y2="520.90" stroke="#000" stroke-width="3.2" stroke-linecap="round"/>
<line x1="1471.62" y1="511.9" x2="1471.62" y2="516.70" stroke="#000" stroke-width="2.8" stroke-linecap="round"/>
<text transform="translate(1459.28,532.20) rotate(-45) scale(0.967,1)" text-anchor="end" font-size="21.8" stroke="#000" stroke-width="0.6">GO -</text>
<line x1="1486.76" y1="511.9" x2="1486.76" y2="520.90" stroke="#000" stroke-width="3.2" stroke-linecap="round"/>
<line x1="1501.90" y1="511.9" x2="1501.90" y2="516.70" stroke="#000" stroke-width="2.8" stroke-linecap="round"/>
<text transform="translate(1489.56,532.20) rotate(-45) scale(0.921,1)" text-anchor="end" font-size="21.8" stroke="#000" stroke-width="0.6">HEP</text>
<line x1="1517.04" y1="511.9" x2="1517.04" y2="520.90" stroke="#000" stroke-width="3.2" stroke-linecap="round"/>
<line x1="1532.18" y1="511.9" x2="1532.18" y2="516.70" stroke="#000" stroke-width="2.8" stroke-linecap="round"/>
<text transform="translate(1519.84,532.20) rotate(-45) scale(0.894,1)" text-anchor="end" font-size="21.8" stroke="#000" stroke-width="0.6">PEG</text>
<line x1="1547.32" y1="511.9" x2="1547.32" y2="520.90" stroke="#000" stroke-width="3.2" stroke-linecap="round"/>
<line x1="1562.46" y1="511.9" x2="1562.46" y2="516.70" stroke="#000" stroke-width="2.8" stroke-linecap="round"/>
<text transform="translate(1550.12,532.20) rotate(-45) scale(0.961,1)" text-anchor="end" font-size="21.8" stroke="#000" stroke-width="0.6">PVA</text>
<rect x="1459.85" y="74.25" width="52.8" height="18.8" rx="0.6" fill="#d0deb8" stroke="#1a2410" stroke-width="1.7"/>
<text transform="translate(1518.80,90.70) scale(0.96,1)" font-size="21.3" stroke="#000" stroke-width="0.3">0.1</text>
<rect x="1459.85" y="104.75" width="52.8" height="18.8" rx="0.6" fill="#82a250" stroke="#1a2410" stroke-width="1.7"/>
<text transform="translate(1519.80,121.20) scale(0.96,1)" font-size="21.3" stroke="#000" stroke-width="0.3">1</text>
<rect x="1459.85" y="135.25" width="52.8" height="18.8" rx="0.6" fill="#4c6232" stroke="#1a2410" stroke-width="1.7"/>
<text transform="translate(1519.60,151.70) scale(1.05,1)" font-size="21.3" stroke="#000" stroke-width="0.3">10</text>
<text transform="translate(872.2,419.0) rotate(-90) scale(1.002,1)" font-size="36.7" stroke="#000" stroke-width="0.8">Apoptotic</text>
<text transform="translate(872.2,255.3) rotate(-90) scale(1.083,1)" font-size="36.7" stroke="#000" stroke-width="0.8">cell</text>
<text transform="translate(872.2,193.3) rotate(-90) scale(0.966,1)" font-size="36.7" stroke="#000" stroke-width="0.8">(%)</text>
<text transform="translate(1260,611) scale(1.04,1)" text-anchor="middle" font-size="35" stroke="#000" stroke-width="0.8">Polymer culture time 24h</text>
<text transform="translate(818.2,51.3) scale(0.965,1)" font-family="'Liberation Serif',serif" font-weight="bold" font-size="68.8">B</text>
</g>
</svg>
</body></html>
